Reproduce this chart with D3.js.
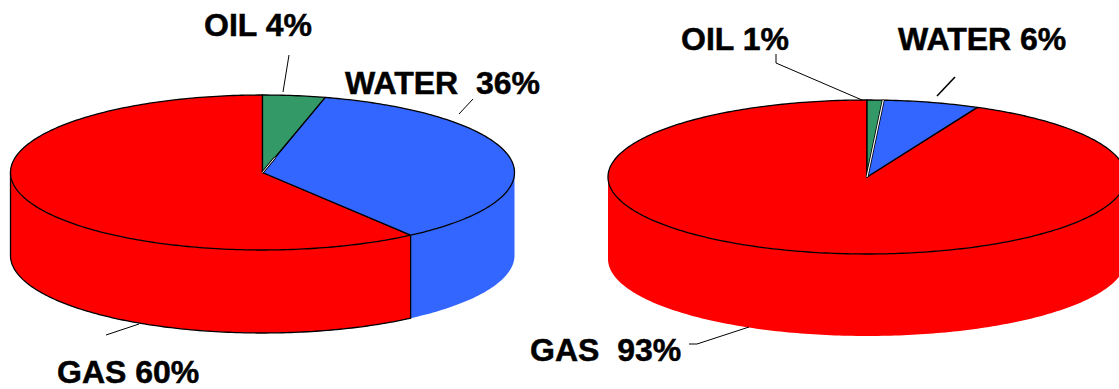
<!DOCTYPE html>
<html>
<head>
<meta charset="utf-8">
<style>
  html, body { margin: 0; padding: 0; background: #fff; }
  svg { display: block; }
  text { font-family: "Liberation Sans", Arial, sans-serif; font-weight: bold; fill: #000; stroke: #000; stroke-width: 0.5px; }
</style>
<script src="https://cdn.jsdelivr.net/npm/d3@7"></script>
</head>
<body>
<svg id="chart" width="1119" height="389"></svg>
<script>
// Fluid fractions shown by each disc, clockwise from twelve o'clock
const fluids = ["OIL", "WATER", "GAS"];
const leftValues = [4, 36, 60];
const rightValues = [1, 6, 93];
const fluidColors = ["#339966", "#3366ff", "#ff0000"];

// Disc geometry: centre, ellipse radii, wall height, outline options, seam length and width
const leftDisc = { cx: 262.5, cy: 172.5, rx: 252, ry: 77.5, depth: 83, outlineWall: true, seamReach: 0.2, seamWidth: 1 };
const rightDisc = { cx: 867, cy: 177, rx: 259, ry: 77, depth: 82, outlineWall: false, seamReach: 1, seamWidth: 1.2 };

// Label placement: [text, x, baseline]
const leftLabels = [["OIL 4%", 204, 36], ["WATER  36%", 345, 94], ["GAS 60%", 57, 383]];
const rightLabels = [["OIL 1%", 681, 50], ["WATER 6%", 898, 50], ["GAS  93%", 530, 361]];

// Leader lines running from the labels to the disc rim: [points, stroke width]
const leftLeaders = [
  [[[289, 55], [283, 92]], 1],
  [[[473, 99], [459, 114]], 1],
  [[[106, 335], [139, 324]], 1]
];
const rightLeaders = [
  [[[776, 54], [776, 63], [862, 100]], 1],
  [[[955, 77], [937, 96]], 1.6],
  [[[689, 344], [697, 344], [749, 327]], 1]
];

const svg = d3.select("#chart");
const pie = d3.pie().sort(null);
const line = d3.line();

function rim(disc, angle, drop) {
  return [disc.cx + disc.rx * Math.sin(angle), disc.cy - disc.ry * Math.cos(angle) + drop];
}

function arcPoints(disc, a0, a1, drop) {
  const n = Math.max(2, Math.ceil(Math.abs(a1 - a0) * 60));
  return d3.range(n + 1).map(i => rim(disc, a0 + (a1 - a0) * i / n, drop));
}

function drawDisc(disc, values, labels, leaders) {
  const g = svg.append("g");
  const slices = pie(values);
  const frontStart = Math.PI / 2, frontEnd = 3 * Math.PI / 2;

  // Outer wall: only the part of each slice facing the viewer
  slices.forEach((s, i) => {
    const a0 = Math.max(s.startAngle, frontStart);
    const a1 = Math.min(s.endAngle, frontEnd);
    if (a1 <= a0) return;
    const top = arcPoints(disc, a0, a1, 0);
    const bottom = arcPoints(disc, a1, a0, disc.depth);
    g.append("path")
      .attr("d", line(top.concat(bottom)) + "Z")
      .attr("fill", fluidColors[i]);
    if (disc.outlineWall && fluids[i] === "GAS") {
      g.append("path")
        .attr("d", line([rim(disc, a0, 0), rim(disc, a0, disc.depth)].concat(
          arcPoints(disc, a0, a1, disc.depth).slice(1),
          [rim(disc, a1, 0)])))
        .attr("fill", "none").attr("stroke", "#000").attr("stroke-width", 1.3);
    }
  });

  // Top face, drawn with the gas slice first so the smaller wedges sit above it
  slices.slice().reverse().forEach(s => {
    const pts = [[disc.cx, disc.cy]].concat(arcPoints(disc, s.startAngle, s.endAngle, 0));
    g.append("path")
      .attr("d", line(pts) + "Z")
      .attr("fill", fluidColors[s.index])
      .attr("stroke", "#000")
      .attr("stroke-width", 1.3)
      .attr("stroke-linejoin", "round");
  });

  // Thin light seam between the oil and water wedges, edged in black
  const seamEnd = rim(disc, slices[0].endAngle, 0);
  const seamPts = [[disc.cx, disc.cy], [
    disc.cx + (seamEnd[0] - disc.cx) * disc.seamReach,
    disc.cy + (seamEnd[1] - disc.cy) * disc.seamReach
  ]];
  g.append("path").attr("d", line(seamPts)).attr("fill", "none")
    .attr("stroke", "#000").attr("stroke-width", disc.seamWidth + 1.6);
  g.append("path").attr("d", line(seamPts)).attr("fill", "none")
    .attr("stroke", "#fff").attr("stroke-width", disc.seamWidth);

  g.selectAll("path.leader").data(leaders).join("path")
    .attr("class", "leader")
    .attr("d", d => line(d[0]))
    .attr("fill", "none").attr("stroke", "#000").attr("stroke-width", d => d[1]);

  g.selectAll("text").data(labels).join("text")
    .attr("x", d => d[1])
    .attr("y", d => d[2])
    .attr("font-size", 32)
    .style("white-space", "pre")
    .text(d => d[0]);
}

drawDisc(leftDisc, leftValues, leftLabels, leftLeaders);
drawDisc(rightDisc, rightValues, rightLabels, rightLeaders);
</script>
</body>
</html>
